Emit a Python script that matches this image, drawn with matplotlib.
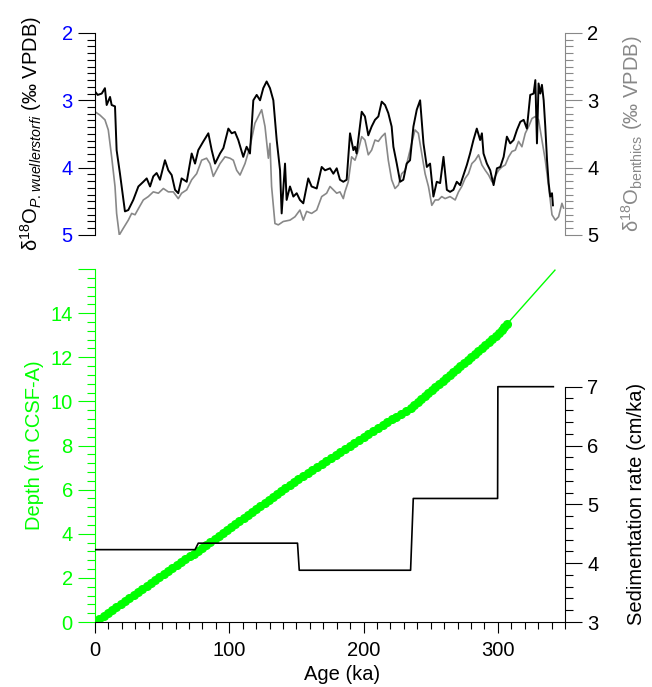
import numpy as np
import matplotlib.pyplot as plt
from matplotlib.ticker import MultipleLocator, FixedLocator

plt.rcParams['font.family'] = ['Liberation Sans', 'DejaVu Sans']
plt.rcParams['mathtext.fontset'] = 'custom'
plt.rcParams['mathtext.rm'] = 'Liberation Sans'
plt.rcParams['mathtext.it'] = 'Liberation Sans:italic'

# P. wuellerstorfi d18O (black)
age_pw = [0, 2.0, 5.0, 7.4, 8.7, 11.2, 12.4, 14.9, 16.1, 18.6, 22.3, 24.8, 28.5, 32.3,
          36.0, 38.5, 41.0, 43.4, 45.9, 48.4, 52.1, 54.6, 57.1, 59.6, 62.0, 64.5, 68.3,
          72.0, 74.5, 76.9, 80.7, 84.4, 86.9, 89.4, 93.1, 95.6, 99.3, 101.8, 104.2, 106.7,
          110.4, 112.9, 115.4, 117.9, 120.4, 122.9, 125.3, 127.8, 130.3, 132.8, 135.3,
          137.8, 139.0, 141.5, 142.7, 145.2, 147.7, 150.2, 152.6, 155.1, 158.8, 161.3,
          165.1, 168.8, 171.3, 175.0, 177.5, 180.0, 182.4, 184.9, 187.4, 189.9, 192.4,
          193.6, 194.8, 197.3, 198.6, 201.0, 203.5, 206.0, 208.5, 211.0, 213.5, 216.0,
          218.4, 220.9, 222.2, 224.7, 227.2, 229.6, 232.1, 234.6, 237.1, 239.6, 242.1,
          244.6, 247.1, 249.5, 252.0, 254.5, 257.0, 259.5, 262.0, 264.4, 266.9, 269.4,
          271.9, 274.4, 276.9, 279.3, 281.8, 284.3, 286.8, 288.1, 289.3, 291.8, 294.3,
          296.8, 299.3, 301.8, 304.3, 306.7, 309.2, 311.7, 314.2, 316.7, 319.2, 321.6,
          324.1, 326.6, 327.9, 329.1, 330.3, 331.6, 332.8, 334.1, 335.3, 336.6, 337.8,
          339.0, 340.3, 341.0]
d18o_pw = [2.87, 2.92, 2.90, 2.82, 3.07, 2.95, 3.07, 3.09, 3.74, 4.09, 4.65, 4.63, 4.48, 4.28,
           4.21, 4.16, 4.28, 4.13, 4.08, 4.18, 3.89, 4.04, 4.11, 4.33, 4.38, 4.16, 4.21,
           3.79, 3.94, 3.74, 3.61, 3.49, 3.74, 3.94, 3.79, 3.71, 3.42, 3.49, 3.47, 3.59,
           3.84, 3.69, 3.79, 3.00, 2.92, 3.00, 2.82, 2.72, 2.82, 3.00, 3.59,
           4.04, 4.68, 3.94, 4.48, 4.28, 4.43, 4.38, 4.48, 4.53, 4.16, 4.28,
           4.31, 3.99, 4.04, 4.01, 4.09, 4.01, 4.18, 4.21, 4.18, 3.49, 3.74,
           3.69, 3.79, 3.39, 3.17, 3.24, 3.52, 3.39, 3.29, 3.24, 3.02, 3.07,
           3.19, 3.39, 3.69, 3.94, 4.21, 4.18, 3.94, 3.89, 3.39, 3.14, 3.00,
           3.64, 3.99, 3.94, 4.43, 4.21, 4.23, 3.84, 4.33, 4.36, 4.33, 4.21,
           4.26, 4.11, 3.96, 3.79, 3.59, 3.42, 3.59, 3.49, 3.79, 3.94, 4.04,
           4.26, 4.01, 3.99, 3.84, 3.54, 3.64, 3.59, 3.44, 3.32, 3.29, 3.42,
           2.92, 2.90, 2.70, 3.64, 2.75, 2.90, 2.77, 3.00, 3.39, 3.89, 4.23,
           4.43, 4.38, 4.56]

# benthic d18O (grey)
age_bt = [0, 3.7, 7.4, 9.9, 12.4, 14.9, 16.1, 18.1, 21.1, 24.8, 27.3, 29.8, 32.3, 36.0,
          39.7, 43.4, 47.2, 50.9, 54.6, 58.3, 62.0, 64.5, 68.3, 72.0, 75.7, 79.4, 83.1,
          85.6, 88.1, 93.1, 96.8, 100.5, 103.0, 105.5, 108.0, 111.7, 115.4, 119.1, 124.1,
          126.6, 129.1, 130.3, 131.5, 134.0, 136.5, 140.2, 145.2, 148.9, 152.6, 155.1,
          157.6, 161.3, 165.1, 168.8, 172.5, 175.0, 177.5, 180.0, 182.4, 184.9, 186.1,
          188.6, 191.1, 193.6, 196.1, 198.6, 201.0, 203.5, 206.0, 208.5, 211.0, 213.5,
          216.0, 218.4, 220.9, 223.4, 225.9, 228.4, 230.9, 233.4, 235.8, 238.3, 240.8,
          243.3, 245.8, 248.3, 250.8, 253.3, 255.7, 258.2, 260.7, 264.4, 268.2, 270.7,
          273.1, 275.6, 278.1, 280.6, 283.1, 285.6, 288.1, 290.6, 293.1, 295.6, 298.0,
          300.5, 303.0, 305.5, 308.0, 310.5, 313.0, 315.4, 317.9, 320.4, 322.9, 325.4,
          327.9, 330.3, 332.8, 335.3, 337.8, 340.3, 342.8, 345.2, 347.7, 348.9]
d18o_bt = [3.17, 3.22, 3.29, 3.44, 3.84, 4.28, 4.68, 5.00, 4.90, 4.78, 4.68, 4.70, 4.61, 4.48,
           4.43, 4.36, 4.38, 4.31, 4.36, 4.36, 4.46, 4.38, 4.33, 4.18, 4.09, 3.89, 3.86,
           3.94, 4.13, 3.94, 3.84, 3.86, 3.89, 4.04, 4.11, 3.94, 3.69, 3.34, 3.14,
           3.39, 3.86, 3.64, 4.28, 4.83, 4.85, 4.80, 4.78, 4.73, 4.63, 4.78,
           4.65, 4.68, 4.63, 4.43, 4.38, 4.28, 4.33, 4.38, 4.36, 4.46, 4.36,
           4.21, 3.84, 3.89, 3.74, 3.54, 3.59, 3.81, 3.74, 3.59, 3.61, 3.54,
           3.49, 3.89, 4.18, 4.31, 4.26, 4.09, 4.04, 3.84, 3.64, 3.44, 3.49,
           3.79, 4.09, 4.28, 4.56, 4.48, 4.48, 4.43, 4.46, 4.43, 4.48, 4.36,
           4.28, 4.16, 4.09, 3.94, 3.89, 3.81, 3.96, 4.04, 4.11, 4.21, 4.13,
           4.04, 3.99, 3.96, 3.84, 3.76, 3.74, 3.61, 3.69, 3.49, 3.39, 3.27,
           3.24, 3.29, 3.59, 3.89, 4.28, 4.70, 4.78, 4.73, 4.53, 4.60]

# age model tie points
tie_age = [0, 75, 150, 235, 300, 342.5]
tie_depth = [0, 3.17, 6.43, 9.72, 13.04, 15.95]

# dated samples
sample_age = [0.0, 3.2, 6.4, 9.6, 12.8, 16.0, 19.2, 22.4, 25.6, 28.8, 32.0, 35.2, 38.4,
              41.6, 44.8, 48.0, 51.2, 54.4, 57.6, 60.8, 64.0, 67.2, 70.4, 73.6, 76.6,
              79.7, 82.8, 85.9, 89.0, 92.1, 95.2, 98.3, 101.4, 104.5, 107.6, 110.7, 113.9,
              117.0, 120.1, 123.2, 126.3, 129.4, 132.5, 135.6, 138.7, 141.8, 144.9, 148.0,
              151.3, 154.8, 158.3, 161.8, 165.2, 168.7, 172.2, 175.7, 179.2, 182.7, 186.2,
              189.7, 193.2, 196.6, 200.1, 203.6, 207.1, 210.6, 214.1, 217.6, 221.1, 224.5,
              228.0, 231.5, 235.0, 237.6, 240.3, 242.9, 245.6, 248.2, 250.9, 253.5, 256.2,
              258.8, 261.5, 264.1, 266.8, 269.4, 272.1, 274.7, 277.4, 280.0, 282.7, 285.3,
              288.0, 290.6, 293.2, 295.9, 298.5, 300.8, 302.7, 304.6, 306.6]
sample_depth = [0.00, 0.135, 0.27, 0.405, 0.54, 0.675, 0.81, 0.945, 1.08, 1.215, 1.35, 1.485,
                1.62, 1.755, 1.89, 2.025, 2.16, 2.295, 2.43, 2.565, 2.70, 2.835, 2.97, 3.105,
                3.24, 3.375, 3.51, 3.645, 3.78, 3.915, 4.05, 4.185, 4.32, 4.455, 4.59, 4.725,
                4.86, 4.995, 5.13, 5.265, 5.40, 5.535, 5.67, 5.805, 5.94, 6.075, 6.21, 6.345,
                6.48, 6.615, 6.75, 6.885, 7.02, 7.155, 7.29, 7.425, 7.56, 7.695, 7.83, 7.965,
                8.10, 8.235, 8.37, 8.505, 8.64, 8.775, 8.91, 9.045, 9.18, 9.315, 9.45, 9.585,
                9.72, 9.855, 9.99, 10.125, 10.26, 10.395, 10.53, 10.665, 10.80, 10.935, 11.07,
                11.205, 11.34, 11.475, 11.61, 11.745, 11.88, 12.015, 12.15, 12.285, 12.42,
                12.555, 12.69, 12.825, 12.96, 13.095, 13.23, 13.365, 13.50]

# sedimentation rate
rate_age = [0, 74.5, 76.9, 150.8, 152.1, 235.0, 237.0, 299.8, 300.0, 341.3]
rate = [4.23, 4.23, 4.34, 4.34, 3.88, 3.88, 5.10, 5.10, 7.0, 7.0]

green = '#00ff00'
grey = '#888888'
fs = 14.5

fig = plt.figure(figsize=(6.52, 6.87), dpi=100)

# ---- top panel: d18O ----
ax1 = fig.add_axes([0.1457, 0.658, 0.7209, 0.294])
ax1.plot(age_bt, d18o_bt, color=grey, lw=1.2)
ax1.plot(age_pw, d18o_pw, color='black', lw=1.4)
ax1.set_xlim(0, 350)
ax1.set_ylim(5, 2)
for s in ['top', 'bottom', 'right']:
    ax1.spines[s].set_visible(False)
ax1.tick_params(axis='x', bottom=False, labelbottom=False)
ax1.yaxis.set_major_locator(MultipleLocator(1))
ax1.yaxis.set_minor_locator(MultipleLocator(0.1))
ax1.tick_params(axis='y', which='major', length=12, width=0.8, labelsize=fs, labelcolor='blue', pad=4)
ax1.tick_params(axis='y', which='minor', length=6, width=0.8)
ax1.set_ylabel(r'δ$^{18}$O$_{\mathit{P.wuellerstorfi}}$ (‰ VPDB)', fontsize=fs)
ax1.yaxis.set_label_coords(-0.108, 0.5)

ax1r = ax1.twinx()
ax1r.set_ylim(5, 2)
for s in ['top', 'bottom', 'left']:
    ax1r.spines[s].set_visible(False)
ax1r.spines['right'].set_color(grey)
ax1r.yaxis.set_major_locator(MultipleLocator(1))
ax1r.yaxis.set_minor_locator(MultipleLocator(0.1))
ax1r.tick_params(axis='y', which='major', length=12, width=0.8, color=grey, labelsize=fs, labelcolor='black', pad=4)
ax1r.tick_params(axis='y', which='minor', length=6, width=0.8, color=grey)
ax1r.set_ylabel(r'δ$^{18}$O$_{\mathrm{benthics}}$ (‰ VPDB)', fontsize=fs, color=grey)
ax1r.yaxis.set_label_coords(1.115, 0.5)

# ---- bottom panel: age model ----
ax2 = fig.add_axes([0.1457, 0.0946, 0.7209, 0.5138])
ax2.plot(tie_age, tie_depth, color=green, lw=1.0)
ax2.plot(sample_age, sample_depth, 'o', color=green, ms=5.5, mec=green)
ax2.set_xlim(0, 350)
ax2.set_ylim(0, 16)
ax2.spines['top'].set_visible(False)
ax2.spines['right'].set_visible(False)
ax2.spines['left'].set_color(green)
ax2.set_yticks(np.arange(0, 17, 2))
ax2.set_yticklabels([str(v) for v in range(0, 16, 2)] + [''])
ax2.yaxis.set_minor_locator(MultipleLocator(0.4))
ax2.tick_params(axis='y', which='major', length=12, width=0.8, color=green, labelcolor=green, labelsize=fs, pad=4)
ax2.tick_params(axis='y', which='minor', length=6, width=0.8, color=green)
ax2.xaxis.set_major_locator(MultipleLocator(100))
ax2.xaxis.set_minor_locator(MultipleLocator(10))
ax2.tick_params(axis='x', which='major', length=8, width=0.8, labelsize=fs, pad=6)
ax2.tick_params(axis='x', which='minor', length=5, width=0.8)
ax2.set_ylabel('Depth (m CCSF-A)', fontsize=fs, color=green)
ax2.yaxis.set_label_coords(-0.108, 0.5)
ax2.set_xlabel('Age (ka)', fontsize=fs)
ax2.xaxis.set_label_coords(0.525, -0.122)

ax2r = ax2.twinx()
ax2r.plot(rate_age, rate, color='black', lw=1.2)
ax2r.set_ylim(3, 9)
for s in ['top', 'bottom', 'left']:
    ax2r.spines[s].set_visible(False)
ax2r.spines['right'].set_bounds(3, 7)
ax2r.yaxis.set_major_locator(FixedLocator([3, 4, 5, 6, 7]))
ax2r.yaxis.set_minor_locator(FixedLocator(np.arange(3, 7.01, 0.2)))
ax2r.tick_params(axis='y', which='major', length=12, width=0.8, labelsize=fs, pad=4)
ax2r.tick_params(axis='y', which='minor', length=6, width=0.8)
ax2r.set_ylabel('Sedimentation rate (cm/ka)', fontsize=fs)
ax2r.yaxis.set_label_coords(1.132, 1 / 3)

fig.savefig('out.png', dpi=100)
